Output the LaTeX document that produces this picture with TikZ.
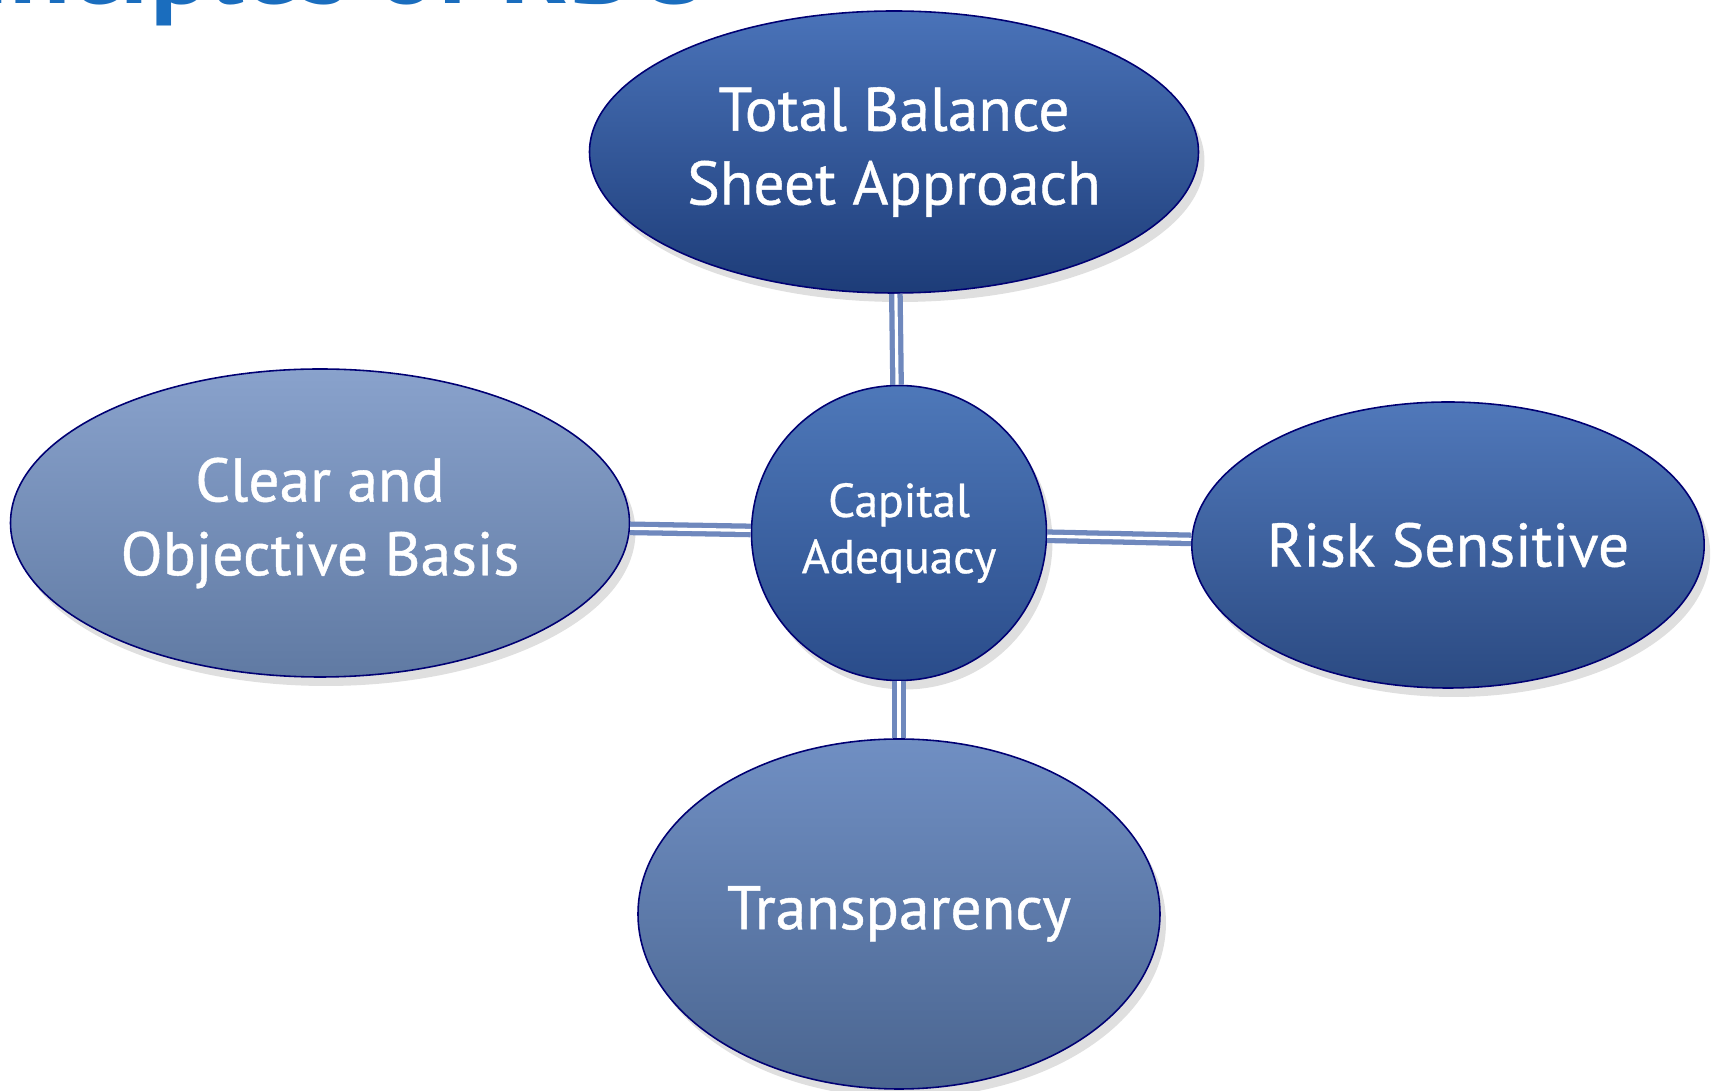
\documentclass[tikz,border=0pt]{standalone}
\usepackage{fontspec}
\setmainfont{PT Sans}
\newfontfamily\bubblefont{PT Sans}[FakeBold=0.7]
\usetikzlibrary{shapes.geometric,shadows}

\definecolor{titleblue}{HTML}{1A6DBE}
\definecolor{linkblue}{HTML}{6F88BD}

\begin{document}
\begin{tikzpicture}[x=0.1mm, y=-0.1mm,
  bubble/.style={ellipse, inner sep=0pt, draw=#1!45!black, line width=0.45pt,
    text=white, align=center, font=\bubblefont\fontsize{17.5}{21}\selectfont,
    drop shadow={opacity=0.25, shadow xshift=0.6mm, shadow yshift=-0.9mm}},
  link/.style={draw=linkblue, line width=1.5pt, double=white, double distance=0.9pt}]
\useasboundingbox (0,0) rectangle (1712,1091);
\clip (0,0) rectangle (1712,1091);

\node[anchor=base east, text=titleblue, font=\fontsize{32}{38}\selectfont\bfseries] (title) at (710,4) {Principles of RBC};

\node[bubble=blue, top color={rgb,255:red,74;green,115;blue,185}, bottom color={rgb,255:red,29;green,60;blue,120},
  minimum width=60.9mm, minimum height=28.2mm] (tbs) at (894,152) {Total Balance\\Sheet Approach};
\node[bubble=blue, top color={rgb,255:red,137;green,162;blue,204}, bottom color={rgb,255:red,96;green,122;blue,163},
  minimum width=61.9mm, minimum height=30.8mm] (cob) at (320,523) {Clear and\\Objective Basis};
\node[bubble=blue, top color={rgb,255:red,80;green,120;blue,186}, bottom color={rgb,255:red,43;green,74;blue,130},
  minimum width=51.1mm, minimum height=28.6mm] (rs) at (1448,545) {Risk Sensitive};
\node[bubble=blue, top color={rgb,255:red,112;green,143;blue,195}, bottom color={rgb,255:red,74;green,101;blue,144},
  minimum width=52.2mm, minimum height=35mm] (tr) at (899,914) {Transparency};
\node[bubble=blue, circle, top color={rgb,255:red,78;green,120;blue,185}, bottom color={rgb,255:red,42;green,76;blue,138},
  minimum size=29.5mm, font=\bubblefont\fontsize{13.5}{16}\selectfont] (cap) at (899,533) {Capital\\Adequacy};

\draw[link] (tbs) -- (cap);
\draw[link] (cob) -- (cap);
\draw[link] (cap) -- (rs);
\draw[link] (cap) -- (tr);
\end{tikzpicture}
\end{document}
